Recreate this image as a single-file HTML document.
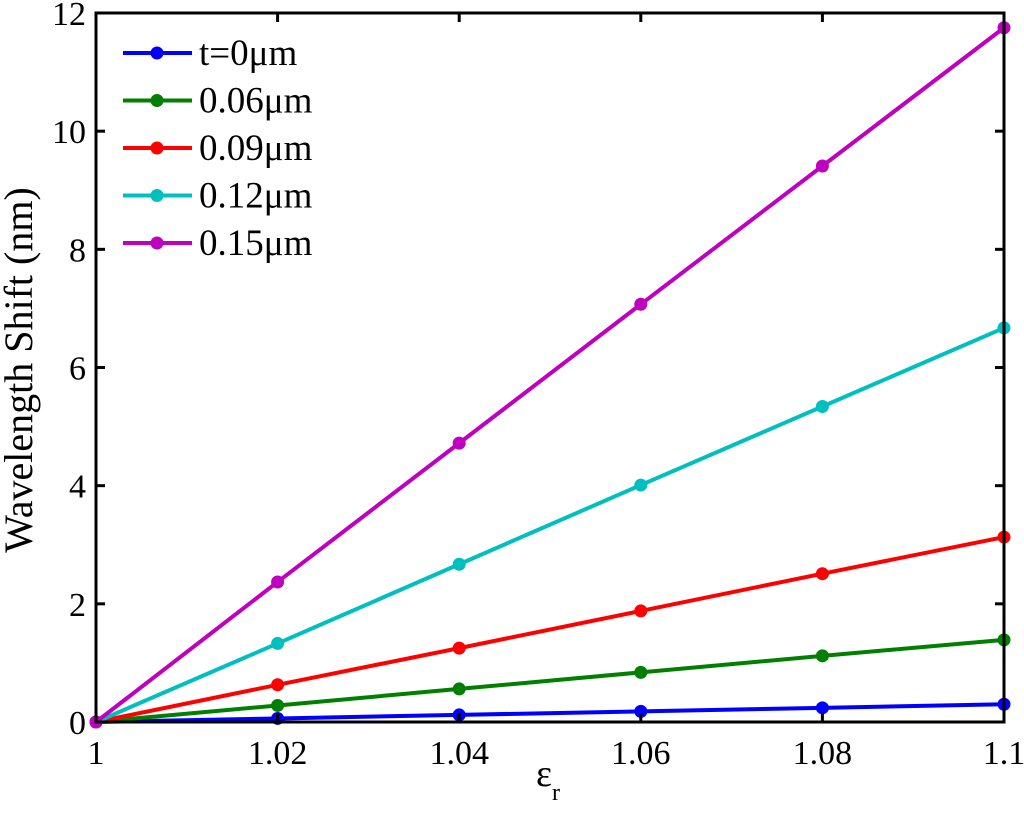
<!DOCTYPE html>
<html><head><meta charset="utf-8"><style>
body{margin:0;background:#fff}
svg text{font-family:"Liberation Serif",serif;fill:#000}
</style></head><body>
<svg width="1024" height="809" viewBox="0 0 1024 809" id="svg"></svg>
<script>
const categories=[1,1.02,1.04,1.06,1.08,1.1];
const seriesNames=["t=0\u03bcm","0.06\u03bcm","0.09\u03bcm","0.12\u03bcm","0.15\u03bcm"];
const seriesColors=["#0000ff","#007f00","#ff0000","#00bfbf","#bf00bf"];
const s0=[0,0.06,0.12,0.18,0.24,0.30];
const s1=[0,0.28,0.56,0.84,1.12,1.39];
const s2=[0,0.63,1.25,1.88,2.51,3.13];
const s3=[0,1.33,2.67,4.01,5.34,6.67];
const s4=[0,2.37,4.72,7.07,9.41,11.75];
const series=[s0,s1,s2,s3,s4];
const xTicks=[1,1.02,1.04,1.06,1.08,1.1];
const xTickLabels=["1","1.02","1.04","1.06","1.08","1.1"];
const yTicks=[0,2,4,6,8,10,12];

const L=96,R=1004,T=13,B=722;
const xs=v=>L+(v-1)/0.1*(R-L);
const ys=v=>B-v/12*(B-T);
const svg=document.getElementById('svg');
const NS='http://www.w3.org/2000/svg';
function mk(tag,attrs,parent){const e=document.createElementNS(NS,tag);for(const k in attrs)e.setAttribute(k,attrs[k]);(parent||svg).appendChild(e);return e;}

series.forEach((s,i)=>{
  const g=mk('g',{});
  
  
  const pl=mk('polyline',{points:s.map((v,j)=>xs(categories[j])+','+ys(v)).join(' '),fill:'none',stroke:seriesColors[i],'stroke-width':4},g);
  
  
  s.forEach((v,j)=>{
    const c=mk('circle',{cx:xs(categories[j]),cy:ys(v),r:6.5,fill:seriesColors[i]},g);
    
    
  });
});
const box=mk('rect',{x:L,y:T,width:R-L,height:B-T,fill:'none',stroke:'#000','stroke-width':3});


xTicks.forEach((t,i)=>{
  const x=xs(t);
  mk('line',{x1:x,y1:B,x2:x,y2:B-9,stroke:'#000','stroke-width':3});
  mk('line',{x1:x,y1:T,x2:x,y2:T+9,stroke:'#000','stroke-width':3});
  const tx=mk('text',{x:x,y:B+42,'font-size':34,'text-anchor':'middle'});
  tx.textContent=xTickLabels[i];
  
  
});
yTicks.forEach(t=>{
  const y=ys(t);
  mk('line',{x1:L,y1:y,x2:L+9,y2:y,stroke:'#000','stroke-width':3});
  mk('line',{x1:R,y1:y,x2:R-9,y2:y,stroke:'#000','stroke-width':3});
  const tx=mk('text',{x:L-10,y:y+12,'font-size':34,'text-anchor':'end'});
  tx.textContent=String(t);
  
  
});
seriesNames.forEach((n,i)=>{
  const y=53+i*47.5;
  const g=mk('g',{});
  
  
  mk('line',{x1:123,y1:y,x2:192,y2:y,stroke:seriesColors[i],'stroke-width':4},g);
  mk('circle',{cx:157,cy:y,r:6.5,fill:seriesColors[i]},g);
  const tx=mk('text',{x:199,y:y+12,'font-size':37},g);
  tx.textContent=n;
});
</script>
<svg style="position:absolute;left:0;top:0" width="1024" height="809">
<text transform="translate(32,370) rotate(-90)" text-anchor="middle" font-size="40">Wavelength Shift (nm)</text>
<text x="548" y="786" text-anchor="middle" font-size="38">ε<tspan font-size="24" dy="14">r</tspan></text>
</svg>
</body></html>
